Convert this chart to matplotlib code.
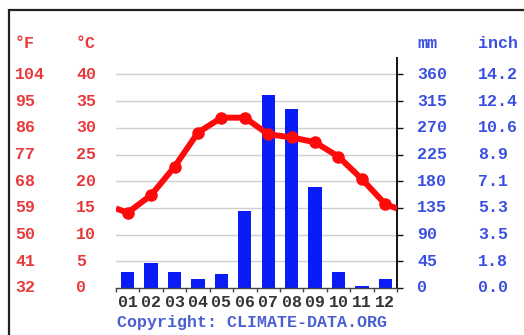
import matplotlib
matplotlib.use("Agg")
import matplotlib.pyplot as plt
from matplotlib.patches import Rectangle
import matplotlib.transforms as mtransforms
import numpy as np

MONTHS = ["01", "02", "03", "04", "05", "06", "07", "08", "09", "10", "11", "12"]
TEMP_C = [14.1, 17.4, 22.7, 29.1, 31.9, 31.9, 28.8, 28.2, 27.3, 24.6, 20.4, 15.7]
PRECIP_MM = [27, 42, 27, 15, 23, 129, 326, 302, 171, 27, 4, 15]

C_TICKS = [0, 5, 10, 15, 20, 25, 30, 35, 40]
F_LABELS = ["32", "41", "50", "59", "68", "77", "86", "95", "104"]
MM_LABELS = ["0", "45", "90", "135", "180", "225", "270", "315", "360"]
INCH_LABELS = ["0.0", "1.8", "3.5", "5.3", "7.1", "8.9", "10.6", "12.4", "14.2"]

RED = "#e8393a"
BLUE = "#3a4fe0"
FONT = "Liberation Mono"

W, H = 524, 335
fig = plt.figure(figsize=(W / 100, H / 100), dpi=100)
ax = fig.add_axes([116 / W, 47 / H, 281 / W, 229.6 / H])
ax2 = ax.twinx()

x = np.arange(1, 13)
ax.bar(x, PRECIP_MM, width=0.57, color="#0a1cf5", zorder=2)
ax.set_xlim(0.5, 12.5)
ax.set_ylim(0, 43 * 9)
for v in C_TICKS[1:]:
    ax.axhline(v * 9, color="#cfcfcf", lw=1.0, zorder=1)

for sp in ("top", "left"):
    ax.spines[sp].set_visible(False)
ax.spines["right"].set_color("#111111")
ax.spines["right"].set_linewidth(1.4)
ax.spines["bottom"].set_color("#444444")
ax.spines["bottom"].set_linewidth(1.0)

ax.set_yticks([c * 9 for c in C_TICKS])
ax.tick_params(axis="y", left=False, right=True, labelleft=False,
               labelright=False, direction="out", length=4.5, width=1.0,
               color="#111111")
ax.set_xticks(x)
ax.set_xticklabels(MONTHS, fontfamily=FONT, fontweight="bold", fontsize=12,
                   color="#333333")
ax.set_xticks(np.arange(0.5, 13, 1), minor=True)
ax.tick_params(axis="x", which="major", length=0, pad=5)
ax.tick_params(axis="x", which="minor", length=3, width=1.0, color="#444444")

# temperature line, closed at the edges with the Dec/Jan mean
edge = (TEMP_C[0] + TEMP_C[-1]) / 2
ax2.set_ylim(0, 43)
ax2.axis("off")
ax2.plot(np.concatenate([[0.5], x, [12.5]]), [edge] + TEMP_C + [edge],
         color="#ff0a0a", lw=4.3, solid_capstyle="butt", solid_joinstyle="round")
ax2.plot(x, TEMP_C, "o", color="#ff0a0a", ms=8)

# tick label columns
trans = mtransforms.blended_transform_factory(fig.transFigure, ax2.transData)
kw = dict(fontfamily=FONT, fontweight="bold", fontsize=12, va="center", ha="left")
for c, f, mm, inch in zip(C_TICKS, F_LABELS, MM_LABELS, INCH_LABELS):
    ax2.text(15 / W, c, f, color=RED, transform=trans, clip_on=False, **kw)
    ax2.text(76 / W, c, str(c), color=RED, transform=trans, clip_on=False, **kw)
    ax2.text(417 / W, c, mm, color=BLUE, transform=trans, clip_on=False, **kw)
    ax2.text(478 / W, c, inch, color=BLUE, transform=trans, clip_on=False, **kw)

head_y = 1 - 44 / H
fig.text(15 / W, head_y, "°F", color=RED, **kw)
fig.text(76 / W, head_y, "°C", color=RED, **kw)
fig.text(417 / W, head_y, "mm", color=BLUE, **kw)
fig.text(478 / W, head_y, "inch", color=BLUE, **kw)
fig.text(117 / W, 1 - 322 / H, "Copyright: CLIMATE-DATA.ORG", color="#4a5fd0", **kw)

fig.patches.append(Rectangle((9 / W, -0.1), 1.1, 1.1 - 10 / H,
                             transform=fig.transFigure, fill=False,
                             edgecolor="#222222", lw=1.6))

fig.savefig("out.png", dpi=100)
